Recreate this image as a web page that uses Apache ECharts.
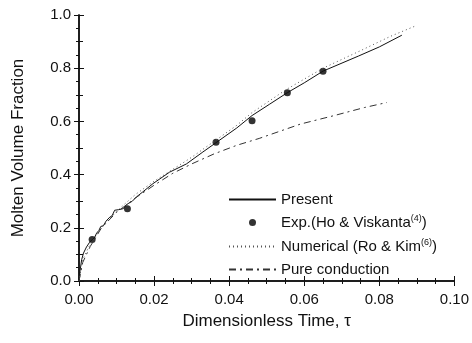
<!DOCTYPE html>
<html>
<head>
<meta charset="utf-8">
<script src="https://cdn.jsdelivr.net/npm/echarts@6/dist/echarts.min.js"></script>
<style>
  html, body { margin: 0; padding: 0; background: #fff; }
  #chart { width: 472px; height: 343px; }
</style>
</head>
<body>
<div id="chart"></div>
<script>
// Present (solid)
const presentT = [0, 0.0003, 0.0007, 0.0012, 0.002, 0.0028, 0.0034, 0.004, 0.0047, 0.0053, 0.0058, 0.0065, 0.0072, 0.0082, 0.0088, 0.0095, 0.0105, 0.0118, 0.0125, 0.0131, 0.0142, 0.0153, 0.017, 0.0197, 0.0241, 0.0286, 0.033, 0.0365, 0.042, 0.0461, 0.0508, 0.0555, 0.06, 0.065, 0.0745, 0.08, 0.086];
const presentV = [0, 0.04, 0.08, 0.105, 0.128, 0.145, 0.154, 0.16, 0.18, 0.19, 0.205, 0.208, 0.225, 0.24, 0.245, 0.266, 0.268, 0.272, 0.285, 0.291, 0.3, 0.316, 0.335, 0.366, 0.409, 0.44, 0.485, 0.52, 0.575, 0.622, 0.665, 0.708, 0.745, 0.789, 0.846, 0.88, 0.924];

// Exp. (Ho & Viskanta)
const expT = [0.0035, 0.0129, 0.0365, 0.0461, 0.0555, 0.065];
const expV = [0.156, 0.272, 0.522, 0.602, 0.708, 0.789];

// Numerical (Ro & Kim)
const numT = [0, 0.001, 0.003, 0.006, 0.01, 0.015, 0.02, 0.025, 0.03, 0.036, 0.042, 0.046, 0.055, 0.065, 0.075, 0.083, 0.09];
const numV = [0, 0.08, 0.14, 0.2, 0.262, 0.325, 0.375, 0.42, 0.465, 0.525, 0.585, 0.632, 0.718, 0.8, 0.866, 0.92, 0.961];

// Pure conduction
const pureT = [0, 0.001, 0.003, 0.006, 0.01, 0.015, 0.02, 0.025, 0.03, 0.036, 0.042, 0.048, 0.059, 0.068, 0.076, 0.082];
const pureV = [0, 0.07, 0.13, 0.2, 0.258, 0.312, 0.36, 0.405, 0.44, 0.478, 0.51, 0.536, 0.59, 0.622, 0.652, 0.671];

const legendLabels = {
  'Present': 'Present',
  'Exp': 'Exp.(Ho & Viskanta{sup|(4)})',
  'Numerical': 'Numerical (Ro & Kim{sup|(6)})',
  'Pure': 'Pure conduction'
};

const zip = (xs, ys) => xs.map((x, i) => [x, ys[i]]);

const font = "'Liberation Sans', Arial, sans-serif";
const ink = '#111';

const chart = echarts.init(document.getElementById('chart'));

const frameAxis = {
  min: 0,
  axisLine: { show: true, lineStyle: { color: ink, width: 1.5 } },
  axisTick: { show: true, inside: true, length: 5, lineStyle: { color: ink } },
  splitLine: { show: false },
  axisLabel: { show: false }
};

const hideSymbol = { itemStyle: { opacity: 0 } };

chart.setOption({
  backgroundColor: '#fff',
  animation: false,
  textStyle: { fontFamily: font },
  grid: { left: 79, right: 16, top: 15, bottom: 62 },
  xAxis: [
    {
      type: 'value', min: 0, max: 0.1, interval: 0.02,
      name: 'Dimensionless Time, τ',
      nameLocation: 'middle', nameGap: 32,
      nameTextStyle: { fontSize: 17, color: ink, fontFamily: font },
      axisLine: { show: true, lineStyle: { color: ink, width: 1.5 } },
      axisTick: { show: true, inside: true, length: 5, lineStyle: { color: ink } },
      minorTick: { show: true, splitNumber: 4, length: 3, lineStyle: { color: ink } },
      splitLine: { show: false },
      axisLabel: { color: ink, fontSize: 15, margin: 11, fontFamily: font, formatter: v => v.toFixed(2) }
    },
    Object.assign({}, frameAxis, {
      type: 'value', position: 'top', max: 0.1, interval: 0.02,
      minorTick: { show: true, splitNumber: 4, length: 3, lineStyle: { color: ink } }
    })
  ],
  yAxis: [
    {
      type: 'value', min: 0, max: 1, interval: 0.2,
      name: 'Molten Volume Fraction',
      nameLocation: 'middle', nameGap: 52,
      nameTextStyle: { fontSize: 17, color: ink, fontFamily: font },
      axisLine: { show: true, lineStyle: { color: ink, width: 1.5 } },
      axisTick: { show: true, inside: true, length: 5, lineStyle: { color: ink } },
      minorTick: { show: true, splitNumber: 2, length: 4, lineStyle: { color: ink } },
      splitLine: { show: false },
      axisLabel: { color: ink, fontSize: 15, margin: 8, fontFamily: font, formatter: v => v.toFixed(1) }
    },
    Object.assign({}, frameAxis, {
      type: 'value', position: 'right', max: 1, interval: 0.2,
      minorTick: { show: true, splitNumber: 4, length: 3, lineStyle: { color: ink } }
    })
  ],
  legend: {
    orient: 'vertical',
    left: 228, top: 192, padding: 0,
    itemWidth: 47, itemHeight: 7, itemGap: 7,
    data: [
      Object.assign({ name: 'Present' }, hideSymbol),
      { name: 'Exp', icon: 'circle', itemStyle: { color: '#000' } },
      Object.assign({ name: 'Numerical' }, hideSymbol),
      Object.assign({ name: 'Pure' }, hideSymbol)
    ],
    formatter: name => legendLabels[name],
    textStyle: {
      color: ink, fontSize: 15, lineHeight: 15, fontFamily: font,
      rich: { sup: { fontSize: 9, lineHeight: 15, color: ink, fontFamily: font, padding: [0, 0, 8, 0] } }
    }
  },
  series: [
    {
      name: 'Present', type: 'line', data: zip(presentT, presentV),
      showSymbol: false, symbol: 'none', smooth: false,
      lineStyle: { color: ink, width: 1 }, itemStyle: { color: ink }
    },
    {
      name: 'Exp', type: 'scatter', data: zip(expT, expV),
      symbol: 'circle', symbolSize: 7, itemStyle: { color: '#000' }
    },
    {
      name: 'Numerical', type: 'line', data: zip(numT, numV),
      showSymbol: false, symbol: 'none',
      lineStyle: { color: '#555', width: 1, type: [1, 3] }, itemStyle: { color: '#555' }
    },
    {
      name: 'Pure', type: 'line', data: zip(pureT, pureV),
      showSymbol: false, symbol: 'none',
      lineStyle: { color: '#333', width: 1, type: [7, 4, 2, 4] }, itemStyle: { color: '#333' }
    }
  ]
});
</script>
</body>
</html>
